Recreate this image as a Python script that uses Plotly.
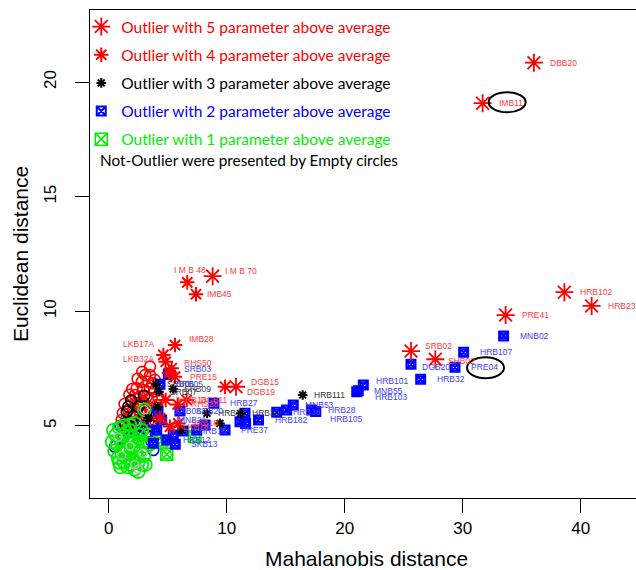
import plotly.graph_objects as go

# ---------------- data ----------------
# Outliers with 5 parameters above average (red, large asterisks)
p5_names = ["DBB20", "IMB11", "HRB102", "HRB23", "PRE41", "SRB02", "SHB02", "I M B 70", "DGB15"]
p5_x = [36.04, 31.69, 38.62, 40.93, 33.64, 25.62, 27.68, 8.81, 10.79]
p5_y = [20.85, 19.08, 10.83, 10.23, 9.83, 8.26, 7.90, 11.53, 6.70]

# Outliers with 4 parameters above average (red, medium asterisks)
p4_names = ["I M B 48", "IMB45", "IMB28", "DGB19", "LKB17A", "LKB32A", "RHS50", "PRE15",
            "HRB18", "RHS28", "DGB11", "SRB18", "LKB18", "", ""]
p4_x = [6.66, 7.40, 5.62, 9.86, 4.63, 4.83, 5.34, 5.62, 4.83, 5.85, 6.61, 5.90, 5.19, 4.35, 5.10]
p4_y = [11.26, 10.74, 8.52, 6.70, 8.09, 7.79, 7.51, 7.14, 6.12, 5.93, 6.12, 5.10, 4.96, 5.32, 7.30]

# Outliers with 3 parameters above average (black, small asterisks)
p3_names = ["HRB111", "SRB06", "SRB07", "SRB09", "", "", "HRB33", "HRB39", "", ""]
p3_x = [16.44, 4.01, 4.26, 5.47, 4.15, 3.36, 8.33, 11.19, 9.43, 6.19]
p3_y = [6.34, 6.81, 6.48, 6.60, 5.83, 5.32, 5.54, 5.54, 5.10, 4.81]

# Outliers with 2 parameters above average (blue squares)
p2_names = ["SRB03", "SRB05", "HRB27", "SRB20", "", "", "MNB53", "HRB28", "HRB38", "HRB105",
            "", "", "HRB182", "PRE37", "HRB101", "MNB55", "HRB103", "DGB20", "HRB32", "PRE04",
            "HRB107", "MNB02", "SRB08", "MNB21", "", "HRB16", "HRB12", "SKB13", "", "", "", ""]
p2_x = [5.05, 4.35, 8.92, 6.04, 11.55, 15.08, 15.64, 17.20, 14.24, 17.55,
        11.13, 11.60, 12.70, 9.86, 21.58, 21.15, 21.02, 25.62, 26.44, 29.35,
        30.08, 33.47, 4.18, 4.49, 4.07, 6.30, 4.92, 5.64, 3.78, 7.46, 8.16, 5.47]
p2_y = [7.24, 6.81, 5.98, 5.64, 5.54, 5.69, 5.90, 5.69, 5.59, 5.62,
        5.17, 5.10, 5.25, 4.81, 6.78, 6.53, 6.48, 7.68, 7.03, 7.55,
        8.21, 8.92, 5.64, 5.25, 4.81, 4.77, 4.38, 4.19, 4.23, 4.81, 5.03, 4.59]

# Outliers with 1 parameter above average (green squares)
p1_x = [7.31, 4.92, 4.49]
p1_y = [4.52, 3.75, 4.33]

# Not-outliers (empty circles), by colour
nr_red_x = [3.50, 3.08, 3.50, 2.80, 3.36, 2.37, 2.93, 3.50, 2.23, 2.65, 3.22, 3.64, 1.95, 2.37,
            2.93, 3.36, 1.66, 2.08, 2.65, 3.08, 3.64, 1.53, 1.95, 2.51, 3.36, 1.66, 2.23, 3.08,
            2.00, 2.60, 1.80, 3.90, 4.10, 1.40, 3.90, 1.20, 1.35, 2.85, 4.20, 3.75, 1.10,
            2.45, 3.25, 4.05, 1.75, 2.90, 3.95, 1.25]
nr_red_y = [7.58, 7.21, 7.21, 6.92, 6.92, 6.63, 6.56, 6.63, 6.34, 6.27, 6.27, 6.20, 6.05, 5.90,
            5.98, 5.83, 5.69, 5.54, 5.61, 5.47, 5.54, 5.32, 5.17, 5.25, 5.17, 4.96, 4.89, 4.89,
            6.60, 6.00, 5.40, 6.50, 5.90, 5.00, 7.00, 5.55, 5.95, 7.35, 6.25, 6.85, 5.25,
            7.05, 5.70, 5.45, 6.35, 6.05, 5.20, 4.80]
nr_black_x = [1.66, 1.53, 2.51, 2.10, 2.80, 1.90, 3.20, 2.40, 3.60, 1.40, 3.00]
nr_black_y = [5.83, 5.61, 5.83, 5.40, 5.20, 6.10, 5.60, 5.00, 5.00, 5.10, 6.30]
nr_blue_x = [1.24, 1.66, 1.53, 2.23, 3.36, 3.78, 0.53, 2.65, 3.64, 1.00, 2.90, 4.00]
nr_blue_y = [4.45, 4.45, 4.74, 4.81, 4.74, 3.94, 4.08, 4.59, 4.30, 5.00, 5.00, 4.60]
nr_green_x = [0.3, 0.6, 0.5, 0.9, 1.0, 0.8, 1.2, 1.3, 1.1, 1.5, 1.6, 1.4, 1.7, 1.6, 1.9,
              2.0, 2.1, 2.2, 2.3, 2.4, 2.5, 2.6, 2.7, 2.8, 2.9, 3.0, 3.2, 3.3, 3.5, 1.8,
              1.3, 2.2, 0.7, 1.0, 1.9, 2.5, 2.0, 1.5, 2.8, 1.2, 0.4, 3.1, 2.4, 1.7, 0.9,
              1.8, 3.02]
nr_green_y = [4.3, 4.6, 3.9, 4.9, 4.4, 3.6, 4.1, 3.4, 3.8, 4.7, 4.3, 3.9, 3.6, 3.2, 4.0,
              3.5, 4.5, 3.1, 3.8, 4.2, 3.4, 4.6, 3.9, 3.3, 4.3, 3.7, 4.1, 4.6, 4.2, 4.8,
              5.0, 5.1, 4.2, 3.2, 3.3, 3.0, 4.3, 3.6, 4.8, 4.6, 4.8, 3.3, 3.6, 4.5, 3.4,
              5.03, 5.69]
nr_gray_x = [1.1, 2.2, 1.8, 2.9, 0.8, 3.02, 2.5]
nr_gray_y = [3.7, 3.3, 4.1, 3.8, 4.5, 5.69, 3.1]

legend_texts = [
    "Outlier with 5 parameter above average",
    "Outlier with 4 parameter above average",
    "Outlier with 3 parameter above average",
    "Outlier with 2 parameter above average",
    "Outlier with 1 parameter above average",
]
note_text = "Not-Outlier were presented by Empty circles"
x_ticks = [0, 10, 20, 30, 40]
y_ticks = [5, 10, 15, 20]

# ---------------- styles ----------------
RED = "#ff0000"
BLUE = "#0000ff"
GREEN = "#00ee00"
LBL_RED = "#ff3b3b"
LBL_BLUE = "#3c3cff"
LBL_BLACK = "#333333"
FONT = "Liberation Sans"
LEG_FONT = "Lato"

fig = go.Figure()


def circles(x, y, color, size=11, width=1.6):
    fig.add_trace(go.Scatter(
        x=x, y=y, mode="markers", showlegend=False, hoverinfo="skip",
        marker=dict(symbol="circle-open", size=size, color=color, line=dict(width=width, color=color))))


circles(nr_red_x, nr_red_y, RED)
circles(nr_black_x, nr_black_y, "black")
circles(nr_blue_x, nr_blue_y, BLUE)
circles(nr_green_x, nr_green_y, GREEN, size=13, width=1.8)
circles(nr_gray_x, nr_gray_y, "#bbbbbb", size=8, width=1.4)


def span(text, color):
    return f'<span style="color:{color}">{text}</span>'


# 1-parameter (green)
fig.add_trace(go.Scatter(
    x=p1_x, y=p1_y, mode="markers", name=span(legend_texts[4], GREEN), legendrank=5,
    legendgroup="g1",
    marker=dict(symbol="square-x-open", size=12, color=GREEN, line=dict(width=1.6, color=GREEN))))
fig.add_trace(go.Scatter(
    x=p1_x, y=p1_y, mode="markers", showlegend=False, hoverinfo="skip",
    marker=dict(symbol="circle-open", size=9, color=GREEN, line=dict(width=1.4, color=GREEN))))

# 2-parameter (blue)
fig.add_trace(go.Scatter(
    x=p2_x, y=p2_y, mode="markers", name=span(legend_texts[3], BLUE), legendrank=4,
    legendgroup="g2", text=p2_names,
    marker=dict(symbol="square-x-open", size=9, color=BLUE, line=dict(width=2, color=BLUE))))
fig.add_trace(go.Scatter(
    x=p2_x, y=p2_y, mode="markers", showlegend=False, hoverinfo="skip",
    marker=dict(symbol="circle-open", size=6, color=BLUE, line=dict(width=1.5, color=BLUE))))

# 3-parameter (black)
fig.add_trace(go.Scatter(
    x=p3_x, y=p3_y, mode="markers", name=span(legend_texts[2], "black"), legendrank=3,
    legendgroup="g3", text=p3_names,
    marker=dict(symbol="asterisk-open", size=8, color="black", line=dict(width=2, color="black"))))

# 4-parameter (red, medium)
fig.add_trace(go.Scatter(
    x=p4_x, y=p4_y, mode="markers", name=span(legend_texts[1], RED), legendrank=2,
    legendgroup="g4", text=p4_names,
    marker=dict(symbol="asterisk-open", size=12, color=RED, line=dict(width=2, color=RED))))

# 5-parameter (red, large)
fig.add_trace(go.Scatter(
    x=p5_x, y=p5_y, mode="markers", name=span(legend_texts[0], RED), legendrank=1,
    legendgroup="g5", text=p5_names,
    marker=dict(symbol="asterisk-open", size=15, color=RED, line=dict(width=1.8, color=RED))))

# ---------------- point labels ----------------
overrides = {
    "LKB17A": dict(xanchor="right", xshift=-6, yshift=11),
    "LKB32A": dict(xanchor="right", xshift=-9, yshift=3),
    "DGB15": dict(xshift=13, yshift=5),
    "DGB19": dict(xshift=20, yshift=-5),
    "I M B 48": dict(xanchor="center", xshift=3, yshift=12),
    "I M B 70": dict(xshift=10, yshift=5),
    "IMB45": dict(xshift=9),
    "IMB28": dict(xshift=12, yshift=6),
    "RHS50": dict(xshift=10, yshift=5),
    "SRB03": dict(xshift=14, yshift=5),
    "PRE15": dict(xshift=13),
    "SRB02": dict(xshift=12, yshift=5),
    "SHB02": dict(xshift=11, yshift=-2),
    "DGB20": dict(xshift=9, yshift=-3),
    "HRB101": dict(xshift=11, yshift=4),
    "HRB103": dict(xshift=16, yshift=-5),
    "HRB105": dict(xshift=12, yshift=-8),
    "HRB111": dict(xshift=9),
    "MNB53": dict(xshift=10),
}

label_sets = [
    (p5_names, p5_x, p5_y, LBL_RED, 14),
    (p4_names, p4_x, p4_y, LBL_RED, 11),
    (p3_names, p3_x, p3_y, LBL_BLACK, 9),
    (p2_names, p2_x, p2_y, LBL_BLUE, 14),
]
annotations = []
for names, xs, ys, col, shift in label_sets:
    for n, xv, yv in zip(names, xs, ys):
        if not n:
            continue
        a = dict(x=xv, y=yv, xref="x", yref="y", text=n, showarrow=False,
                 xanchor="left", yanchor="middle", xshift=shift,
                 font=dict(family=FONT, size=8.5, color=col))
        a.update(overrides.get(n, {}))
        annotations.append(a)

# note line of the legend
annotations.append(dict(x=0.0147, y=0.6926, xref="paper", yref="paper", text=note_text,
                        showarrow=False, xanchor="left", yanchor="middle",
                        font=dict(family=LEG_FONT, size=15.3, color="black")))
# axis titles
annotations.append(dict(x=0.5055, y=-0.124, xref="paper", yref="paper", text="Mahalanobis distance",
                        showarrow=False, xanchor="center", yanchor="middle",
                        font=dict(family=FONT, size=21, color="black")))
annotations.append(dict(x=-0.128, y=0.5, xref="paper", yref="paper", text="Euclidean distance",
                        showarrow=False, xanchor="center", yanchor="middle", textangle=-90,
                        font=dict(family=FONT, size=21, color="black")))

# ellipses around IMB11 and PRE04 labels
i11 = p5_names.index("IMB11")
i04 = p2_names.index("PRE04")
shapes = [
    dict(type="circle", xref="x", yref="y", xsizemode="pixel", ysizemode="pixel",
         xanchor=p5_x[i11], yanchor=p5_y[i11], x0=6, x1=43, y0=-9, y1=11,
         line=dict(color="black", width=2)),
    dict(type="circle", xref="x", yref="y", xsizemode="pixel", ysizemode="pixel",
         xanchor=p2_x[i04], yanchor=p2_y[i04], x0=12, x1=49, y0=-11, y1=10,
         line=dict(color="black", width=2)),
]

fig.update_layout(
    width=636, height=570,
    margin=dict(l=90, r=0, t=10, b=72),
    paper_bgcolor="white", plot_bgcolor="white",
    annotations=annotations, shapes=shapes,
    showlegend=True,
    legend=dict(x=-0.016, y=1.0, xanchor="left", yanchor="top", bgcolor="rgba(0,0,0,0)",
                font=dict(family=LEG_FONT, size=15.5, color="black"),
                tracegroupgap=5, itemsizing="trace"),
    xaxis=dict(range=[-1.585, 44.69], tickvals=x_ticks, showgrid=False, zeroline=False,
               showline=True, mirror=True, linecolor="black", linewidth=1.3,
               ticks="outside", ticklen=14, tickwidth=1.3, tickcolor="black",
               tickfont=dict(family=FONT, size=17, color="black")),
    yaxis=dict(range=[1.843, 23.15], tickvals=y_ticks, showgrid=False, zeroline=False,
               showline=True, mirror=False, linecolor="black", linewidth=1.3,
               ticks="outside", ticklen=14, tickwidth=1.3, tickcolor="black", tickangle=-90,
               ticklabelstandoff=12,
               tickfont=dict(family=FONT, size=17, color="black")),
)

fig.write_html("out.html")
